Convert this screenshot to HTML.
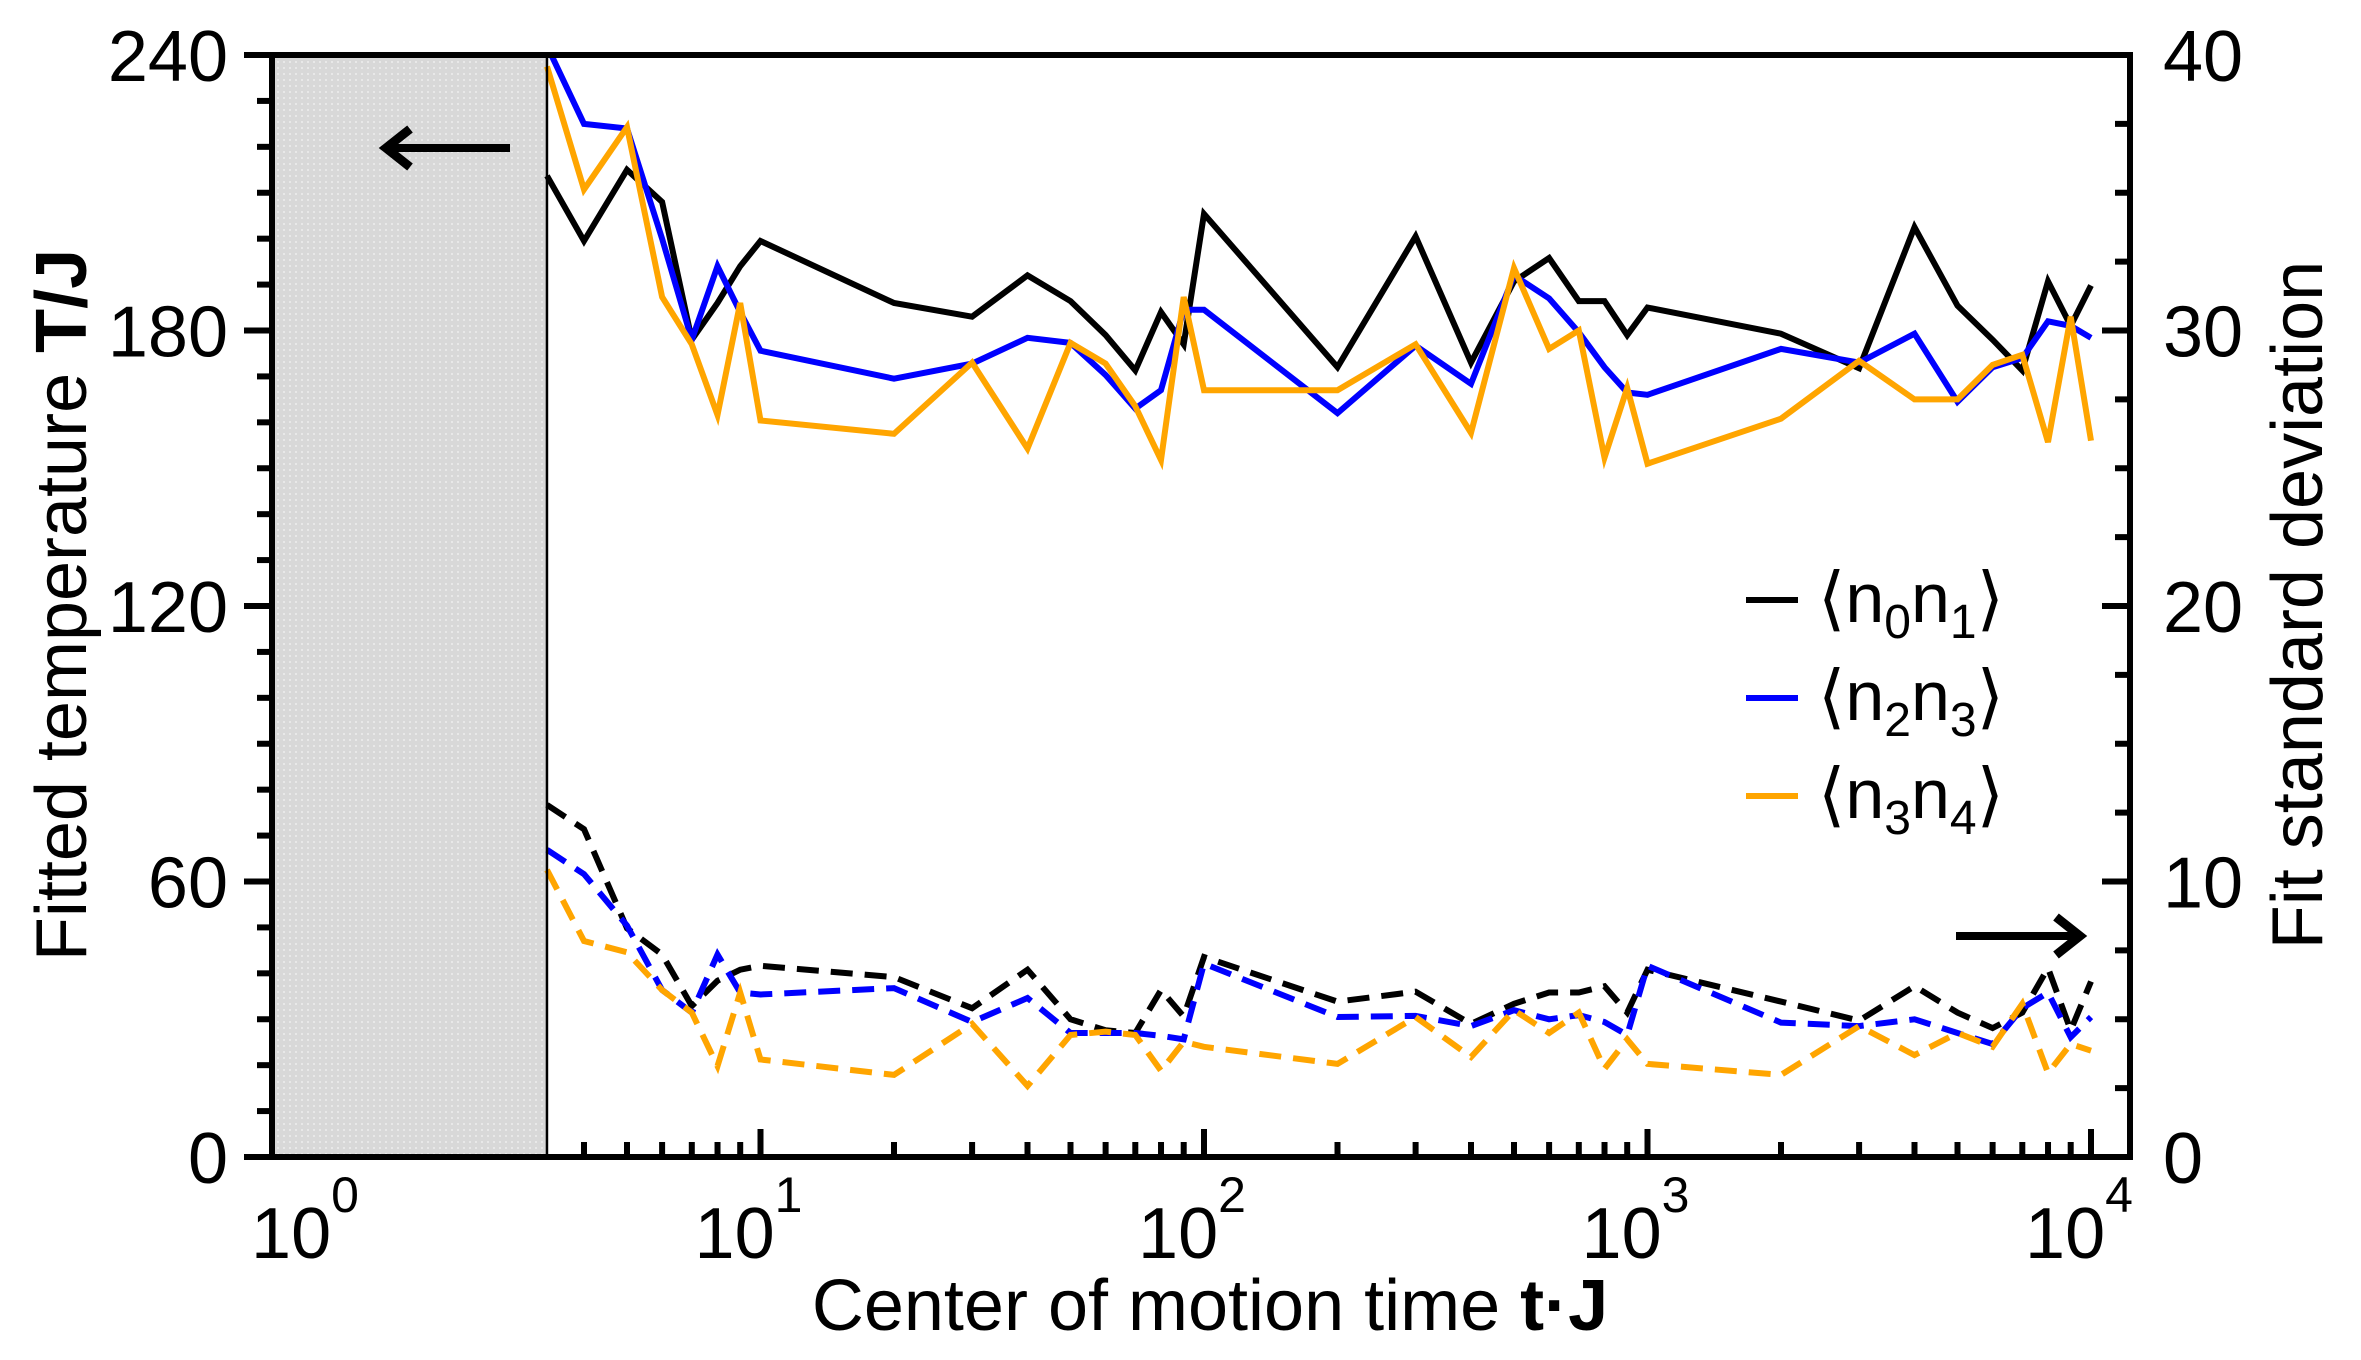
<!DOCTYPE html>
<html><head><meta charset="utf-8"><style>
html,body{margin:0;padding:0;background:#fff;}
svg{display:block;font-family:"Liberation Sans","DejaVu Sans",sans-serif;}
</style></head><body>
<svg id="chart" width="2361" height="1360" viewBox="0 0 2361 1360" xmlns="http://www.w3.org/2000/svg" style="position:absolute;left:0;top:0;">
<defs>
<pattern id="dots" width="6" height="6" patternUnits="userSpaceOnUse"><rect width="6" height="6" fill="#d8d8d8"/><rect x="1" y="1" width="2" height="2" fill="#e8e8e8"/></pattern>
</defs>
<g id="g-series"></g>
<g id="g-axes"></g>
</svg>
<script>
const times = [3.3,4,5,6,7,8,9,10,20,30,40,50,60,70,80,90,100,200,300,400,500,600,700,800,900,1000,2000,3000,4000,5000,6000,7000,8000,9000,10000];
const tempN01 = [213.7,199.5,215,208,178,186,194,199.5,186,183,192,186.4,179,171.3,184,177,205.4,172,200.5,173,190.7,195.8,186.4,186.4,179,185,179.3,171.8,202.5,185.4,178,171.3,190.7,181,189.8];
const tempN23 = [242,225,224,200,178,194,184,175.6,169.5,172.8,178.4,177.3,170.3,163,167,184.5,184.5,162,176.7,168.4,192,187,179.6,172,166.5,166,176,173,179.3,164.5,172,174,182,181,178.4];
const tempN34 = [237.5,210.7,224.3,187.3,177,161.6,186,160.4,157.5,173,154.3,177.3,172.8,163.5,151.8,187.3,167,167,177,157.7,193.6,176,180,152.3,167.5,151,160.8,173.4,165,165,172.5,174.7,155.7,183,156];
const sdN01 = [12.78,11.9,8.3,7.35,5.48,6.4,6.8,6.94,6.53,5.4,6.8,5.0,4.6,4.5,6.06,5.1,7.26,5.64,6.0,4.83,5.56,5.97,5.97,6.2,5.24,6.8,5.64,4.95,6.2,5.24,4.68,5.24,6.86,4.6,6.37];
const sdN23 = [11.15,10.27,8.4,6.06,5.24,7.35,5.97,5.9,6.13,4.9,5.77,4.5,4.5,4.5,4.4,4.27,7.02,5.08,5.12,4.75,5.33,5.0,5.15,4.9,4.43,6.94,4.88,4.75,5.0,4.5,4.1,5.4,5.97,4.35,5.08];
const sdN34 = [10.42,7.84,7.43,6.06,5.24,3.3,5.97,3.54,2.98,4.83,2.58,4.43,4.55,4.43,3.13,4.18,4.0,3.38,5.08,3.63,5.33,4.5,5.24,3.2,4.27,3.38,2.98,4.75,3.7,4.5,4.0,5.56,3.05,4.1,3.86];
const leftTicks = [0,60,120,180,240];
const rightTicks = [0,10,20,30,40];
const decades = [0,1,2,3,4];

const NS="http://www.w3.org/2000/svg";
const L=272,R=2130,T=55,B=1157;
const X0=317,DEC=443.5;
function xs(v){return X0+DEC*Math.log10(v);}
function yl(v){return B-(B-T)*v/240;}
function yr(v){return B-(B-T)*v/40;}
function mk(tag,attrs,parent){const e=document.createElementNS(NS,tag);for(const k in attrs)e.setAttribute(k,attrs[k]);parent.appendChild(e);return e;}
const gA=document.getElementById('g-axes'), gS=document.getElementById('g-series');

const shadeEnd=xs(times[0]);
const shade=mk('rect',{x:L,y:T,width:shadeEnd-L,height:B-T,fill:'url(#dots)'},gS);



const series=[
 {d:tempN01,c:'#000',f:yl,dash:null,n:'n0n1-temperature-line'},
 {d:tempN23,c:'#0000ff',f:yl,dash:null,n:'n2n3-temperature-line'},
 {d:tempN34,c:'#ffa500',f:yl,dash:null,n:'n3n4-temperature-line'},
 {d:sdN01,c:'#000',f:yr,dash:'22 12',n:'n0n1-sd-line'},
 {d:sdN23,c:'#0000ff',f:yr,dash:'22 12',n:'n2n3-sd-line'},
 {d:sdN34,c:'#ffa500',f:yr,dash:'22 12',n:'n3n4-sd-line'}
];
const cp=mk('clipPath',{id:'clip'},gS);
mk('rect',{x:L,y:T,width:R-L,height:B-T},cp);
[3,4,5,0,1,2].forEach(i=>{const s=series[i];
 const pts=times.map((t,j)=>xs(t).toFixed(1)+','+s.f(s.d[j]).toFixed(1)).join(' ');
 const p=mk('polyline',{points:pts,fill:'none',stroke:s.c,'stroke-width':6,'stroke-linejoin':'miter','clip-path':'url(#clip)'},gS);
 if(s.dash)p.setAttribute('stroke-dasharray',s.dash);
 
 
});
const sb=mk('line',{x1:shadeEnd,y1:T,x2:shadeEnd,y2:B,stroke:'#000','stroke-width':2.5},gS);



const fr=mk('rect',{x:L,y:T,width:R-L,height:B-T,fill:'none',stroke:'#000','stroke-width':6},gA);


for(let v=0;v<=240;v+=10){const maj=v%60===0;const y=yl(v);
 mk('line',{x1:L-(maj?28:15),y1:y,x2:L,y2:y,stroke:'#000','stroke-width':6},gA);}
leftTicks.forEach(v=>{const t=mk('text',{x:228,y:yl(v)+26,'font-size':72,'text-anchor':'end'},gA);t.textContent=v;
 
 });
for(let v=0;v<=40;v+=2.5){const maj=v%10===0;const y=yr(v);
 mk('line',{x1:R-(maj?28:15),y1:y,x2:R,y2:y,stroke:'#000','stroke-width':6},gA);}
rightTicks.forEach(v=>{const t=mk('text',{x:2163,y:yr(v)+26,'font-size':72},gA);t.textContent=v;
 
 });
for(let d=0;d<4;d++){for(let m=1;m<10;m++){const v=m*Math.pow(10,d);const x=xs(v);if(x<=shadeEnd)continue;
 mk('line',{x1:x,y1:B,x2:x,y2:B-(m===1?28:15),stroke:'#000','stroke-width':6},gA);}}
mk('line',{x1:xs(10000),y1:B,x2:xs(10000),y2:B-28,stroke:'#000','stroke-width':6},gA);
decades.forEach(d=>{const t=mk('text',{x:xs(Math.pow(10,d))-12,y:1258,'font-size':72,'text-anchor':'middle'},gA);
 t.textContent='10';
 const s=mk('tspan',{dy:-46,'font-size':50},t);s.textContent=d;
 
 });
function arrow(x1,x2,y,name){const g=mk('g',{},gA);
 mk('line',{x1:x1,y1:y,x2:x2,y2:y,stroke:'#000','stroke-width':8},g);
 const dir=x2>x1?-1:1;
 mk('polyline',{points:(x2+dir*24)+','+(y-19)+' '+x2+','+y+' '+(x2+dir*24)+','+(y+19),fill:'none',stroke:'#000','stroke-width':9},g);
 
 }
arrow(510,386,148,'left-axis-arrow');
arrow(1956,2080,936,'right-axis-arrow');
</script>
<svg width="2361" height="1360" style="position:absolute;left:0;top:0;font-family:'Liberation Sans','DejaVu Sans',sans-serif;">
<text x="1210" y="1330" font-size="72" text-anchor="middle">Center of motion time <tspan font-weight="bold">t·J</tspan></text>
<text transform="translate(86,605) rotate(-90)" font-size="72" text-anchor="middle">Fitted temperature <tspan font-weight="bold">T/J</tspan></text>
<text transform="translate(2322,605) rotate(-90)" font-size="72" text-anchor="middle">Fit standard deviation</text>
<g font-size="70">
<g><line x1="1746" y1="600" x2="1798" y2="600" stroke="#000" stroke-width="6"/><text x="1818" y="622"><tspan font-family="DejaVu Sans">⟨</tspan>n<tspan font-size="48" dy="16">0</tspan><tspan dy="-16">n</tspan><tspan font-size="48" dy="16">1</tspan><tspan dy="-16" font-family="DejaVu Sans">⟩</tspan></text></g>
<g><line x1="1746" y1="698" x2="1798" y2="698" stroke="#0000ff" stroke-width="6"/><text x="1818" y="720"><tspan font-family="DejaVu Sans">⟨</tspan>n<tspan font-size="48" dy="16">2</tspan><tspan dy="-16">n</tspan><tspan font-size="48" dy="16">3</tspan><tspan dy="-16" font-family="DejaVu Sans">⟩</tspan></text></g>
<g><line x1="1746" y1="796" x2="1798" y2="796" stroke="#ffa500" stroke-width="6"/><text x="1818" y="818"><tspan font-family="DejaVu Sans">⟨</tspan>n<tspan font-size="48" dy="16">3</tspan><tspan dy="-16">n</tspan><tspan font-size="48" dy="16">4</tspan><tspan dy="-16" font-family="DejaVu Sans">⟩</tspan></text></g>
</g>
</svg>
</body></html>
